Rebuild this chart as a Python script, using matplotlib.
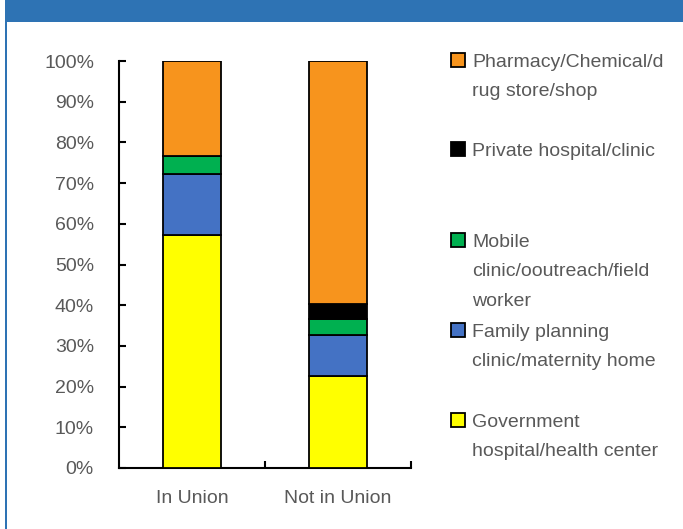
import matplotlib
matplotlib.use("Agg")
import matplotlib.pyplot as plt
from matplotlib.patches import Rectangle
from matplotlib.ticker import PercentFormatter, FixedLocator

categories = ["In Union", "Not in Union"]
series_names = [
    "Government\nhospital/health center",
    "Family planning\nclinic/maternity home",
    "Mobile\nclinic/ooutreach/field\nworker",
    "Private hospital/clinic",
    "Pharmacy/Chemical/d\nrug store/shop",
]
government = [57.2, 22.6]
family_planning = [15.0, 10.1]
mobile = [4.5, 4.0]
private = [0.0, 3.5]
pharmacy = [23.3, 59.8]
series_values = [government, family_planning, mobile, private, pharmacy]
colors = ["#FFFF00", "#4472C4", "#00B050", "#000000", "#F7941D"]

plt.rcParams['font.family'] = ['Liberation Sans', 'DejaVu Sans']
text_color = "#595959"

fig = plt.figure(figsize=(6.83, 5.29), dpi=100)
W, H = 683, 529

# banner and frame
fig.patches.append(Rectangle((5 / W, 1 - 22 / H), 1, 22 / H, transform=fig.transFigure,
                             facecolor="#2E73B4", edgecolor="none", zorder=0))
fig.patches.append(Rectangle((5 / W, 0), 2 / W, 1, transform=fig.transFigure,
                             facecolor="#2E73B4", edgecolor="none", zorder=0))

ax = fig.add_axes([119 / W, (H - 468) / H, 292 / W, 407 / H])

x = list(range(len(categories)))
bottoms = [0.0] * len(categories)
for name, vals, c in zip(series_names, series_values, colors):
    ax.bar(x, vals, width=0.4, bottom=bottoms, color=c, edgecolor="black",
           linewidth=1.3, label=name, zorder=3)
    bottoms = [b + v for b, v in zip(bottoms, vals)]

ax.set_xlim(-0.5, 1.5)
ax.set_ylim(0, 100)
ax.set_yticks([i * 10 for i in range(11)])
ax.yaxis.set_major_formatter(PercentFormatter(decimals=0))
ax.set_xticks(x)
ax.set_xticklabels(categories)
ax.xaxis.set_minor_locator(FixedLocator([0.5, 1.5]))
ax.tick_params(axis="x", which="major", length=0, pad=16, labelsize=14, labelcolor=text_color)
ax.tick_params(axis="x", which="minor", direction="in", length=5, width=1.5)
ax.tick_params(axis="y", direction="in", length=5, width=1.5, pad=18, labelsize=14,
               labelcolor=text_color)
for s in ["top", "right"]:
    ax.spines[s].set_visible(False)
for s in ["left", "bottom"]:
    ax.spines[s].set_linewidth(1.5)

# legend, drawn as in the reference (top entry = last series)
legend_order = list(range(len(series_names)))[::-1]
slot_centers = [60, 149, 240, 330, 420]
for idx, yc in zip(legend_order, slot_centers):
    fig.patches.append(Rectangle((451 / W, 1 - (yc + 7) / H), 14 / W, 14 / H,
                                 transform=fig.transFigure, facecolor=colors[idx],
                                 edgecolor="black", linewidth=1.3, zorder=5))
    fig.text(472 / W, 1 - (yc - 6) / H, series_names[idx], ha="left", va="top",
             fontsize=14, color=text_color, linespacing=1.95)

fig.savefig("out.png", dpi=100, facecolor="white")
